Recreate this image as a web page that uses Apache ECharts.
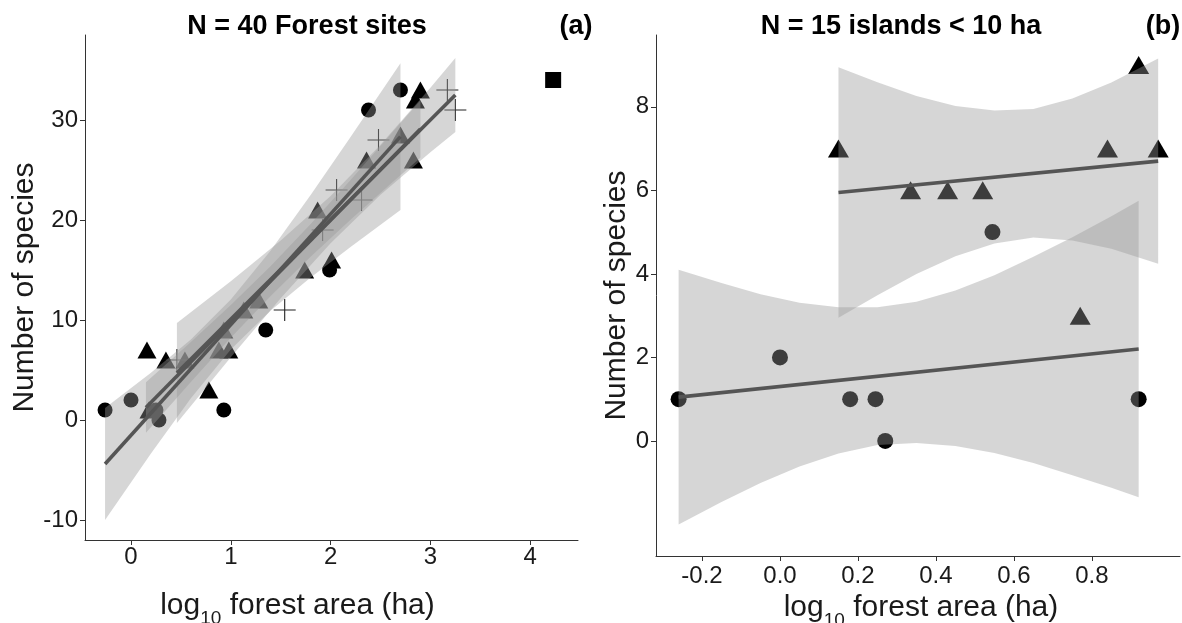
<!DOCTYPE html>
<html>
<head>
<meta charset="utf-8">
<script src="https://cdn.jsdelivr.net/npm/echarts@6/dist/echarts.min.js"></script>
<style>
html,body{margin:0;padding:0;background:#fff;}
#chart{width:1182px;height:623px;}
</style>
</head>
<body>
<div id="chart"></div>
<script>
// ---------- Panel (a): N = 40 forest sites ----------
const circlesA = [[-0.26,1],[0.0,2],[0.25,1],[0.28,0],[0.93,1],[1.35,9],[1.99,15],[2.38,31],[2.7,33]];
const trianglesA = [[0.16,7],[0.35,6],[0.18,1],[0.54,6],[0.78,3],[0.88,7],[0.98,7],[0.93,9],[1.13,11],[1.28,12],
                    [1.74,15],[1.87,21],[2.01,16],[2.36,26],[2.7,28.5],[2.83,26],[2.85,32],[2.9,33]];
const crossesA = [[0.46,6],[1.54,11],[1.92,19],[2.06,23],[2.31,22],[2.48,28],[3.17,33],[3.25,31]];
const squaresA = [[4.23,34]];

const fitCirclesA = [[-0.26,-4.4],[2.7,28.34]];
const fitTrianglesA = [[0.15,1.25],[2.9,29.1]];
const fitCrossesA = [[0.46,4.7],[3.25,32.5]];

const bandCirclesA_x  = [-0.26, 0.2, 0.6, 1.0, 1.4, 1.8, 2.2, 2.7];
const bandCirclesA_lo = [-10.0, -3.34, 2.17, 7.04, 10.96, 14.26, 17.31, 21.0];
const bandCirclesA_hi = [1.2, 4.72, 8.05, 12.04, 16.96, 22.5, 28.29, 35.68];

const bandTrianglesA_x  = [0.15, 0.6, 1.0, 1.4, 1.8, 2.2, 2.6, 2.9];
const bandTrianglesA_lo = [-1.28, 3.81, 8.22, 12.41, 16.32, 20.02, 23.6, 26.23];
const bandTrianglesA_hi = [3.78, 7.79, 11.5, 15.41, 19.6, 24.0, 28.54, 31.97];

const bandCrossesA_x  = [0.46, 1.0, 1.5, 2.0, 2.5, 3.0, 3.25];
const bandCrossesA_lo = [-0.3, 6.28, 12.18, 17.68, 22.52, 26.78, 28.79];
const bandCrossesA_hi = [9.7, 13.88, 17.94, 22.4, 27.52, 33.22, 36.19];

const xTicksA = [0, 1, 2, 3, 4];
const yTicksA = [-10, 0, 10, 20, 30];

// ---------- Panel (b): N = 15 islands < 10 ha ----------
const circlesB = [[-0.26,1],[0.0,2],[0.18,1],[0.245,1],[0.27,0],[0.545,5],[0.92,1]];
const trianglesB = [[0.15,7],[0.335,6],[0.43,6],[0.52,6],[0.77,3],[0.84,7],[0.92,9],[0.97,7]];

const fitCirclesB = [[-0.26,1.05],[0.92,2.2]];
const fitTrianglesB = [[0.15,5.95],[0.97,6.7]];

const bandCirclesB_x  = [-0.26,-0.15,-0.05,0.05,0.15,0.25,0.35,0.45,0.55,0.65,0.75,0.85,0.92];
const bandCirclesB_lo = [-2.0,-1.46,-1.01,-0.61,-0.30,-0.10,-0.05,-0.12,-0.29,-0.53,-0.82,-1.12,-1.35];
const bandCirclesB_hi = [4.1,3.78,3.51,3.31,3.20,3.20,3.33,3.60,3.97,4.41,4.88,5.38,5.75];

const bandTrianglesB_x  = [0.15,0.25,0.35,0.45,0.55,0.65,0.75,0.85,0.97];
const bandTrianglesB_lo = [2.95,3.49,4.00,4.42,4.73,4.87,4.80,4.60,4.24];
const bandTrianglesB_hi = [8.95,8.59,8.26,8.02,7.91,7.95,8.20,8.58,9.16];

const xTicksB = [-0.2, 0.0, 0.2, 0.4, 0.6, 0.8];
const yTicksB = [0, 2, 4, 6, 8];

// ---------- styling ----------
const FONT = 'Liberation Sans, Arial, sans-serif';
const AXIS_COLOR = '#333';
const TEXT_COLOR = '#1a1a1a';
const BAND_FILL = 'rgba(153,153,153,0.4)';
const LINE_COLOR = '#555';
const PLUS = 'path://M0,9.5H20V10.5H0Z M9.5,0H10.5V20H9.5Z';

function band(idx, xs, lo, hi) {
  const data = xs.map((x, i) => [x, lo[i], hi[i]]);
  return {
    type: 'custom', xAxisIndex: idx, yAxisIndex: idx, data: data, silent: true, z: 3,
    encode: { x: 0, y: [1, 2] },
    renderItem: function (params, api) {
      if (params.dataIndex !== 0) return null;
      const p = [];
      for (let i = 0; i < data.length; i++) p.push(api.coord([data[i][0], data[i][2]]));
      for (let i = data.length - 1; i >= 0; i--) p.push(api.coord([data[i][0], data[i][1]]));
      return { type: 'polygon', shape: { points: p }, style: { fill: BAND_FILL } };
    }
  };
}
function fit(idx, d) {
  return { type: 'line', xAxisIndex: idx, yAxisIndex: idx, data: d, symbol: 'none', z: 4, silent: true,
           lineStyle: { color: LINE_COLOR, width: 3.6 } };
}
function pts(idx, d, symbol, size, color) {
  return { type: 'scatter', xAxisIndex: idx, yAxisIndex: idx, data: d, symbol: symbol, symbolSize: size,
           z: 2, silent: true, itemStyle: { color: color, opacity: 1 } };
}
function xAxis(idx, min, max, ticks, fmt, margin, gap, padding) {
  return {
    gridIndex: idx, type: 'value', min: min, max: max,
    axisLine: { show: true, onZero: false, lineStyle: { color: AXIS_COLOR, width: 1 } },
    axisTick: { show: true, customValues: ticks, length: 5, lineStyle: { color: AXIS_COLOR } },
    axisLabel: { customValues: ticks, formatter: fmt, fontSize: 24, color: TEXT_COLOR, fontFamily: FONT, margin: margin },
    splitLine: { show: false },
    name: '{a|log}{s|10}{a| forest area (ha)}', nameLocation: 'middle', nameGap: gap,
    nameTextStyle: {
      padding: padding,
      rich: {
        a: { fontSize: 30, fontFamily: FONT, color: TEXT_COLOR, lineHeight: 44, verticalAlign: 'middle' },
        s: { fontSize: 19, fontFamily: FONT, color: TEXT_COLOR, lineHeight: 44, verticalAlign: 'bottom' }
      }
    }
  };
}
function yAxis(idx, min, max, ticks, gap) {
  return {
    gridIndex: idx, type: 'value', min: min, max: max,
    axisLine: { show: true, onZero: false, lineStyle: { color: AXIS_COLOR, width: 1 } },
    axisTick: { show: true, customValues: ticks, length: 5, lineStyle: { color: AXIS_COLOR } },
    axisLabel: { customValues: ticks, fontSize: 24, color: TEXT_COLOR, fontFamily: FONT, margin: 7 },
    splitLine: { show: false },
    name: 'Number of species', nameLocation: 'middle', nameGap: gap,
    nameTextStyle: { fontSize: 30, fontFamily: FONT, color: TEXT_COLOR }
  };
}
const titleStyle = { fontSize: 27, fontWeight: 'bold', fontFamily: FONT, color: '#000' };

const chart = echarts.init(document.getElementById('chart'), null, { renderer: 'canvas' });
chart.setOption({
  backgroundColor: '#fff',
  animation: false,
  title: [
    { text: 'N = 40 Forest sites', left: 302, top: 8, textAlign: 'center', textStyle: titleStyle },
    { text: '(a)', left: 571, top: 8, textAlign: 'center', textStyle: titleStyle },
    { text: 'N = 15 islands < 10 ha', left: 896, top: 8, textAlign: 'center', textStyle: titleStyle },
    { text: '(b)', left: 1158, top: 8, textAlign: 'center', textStyle: titleStyle }
  ],
  grid: [
    { left: 85, top: 35, width: 493, height: 505, outerBoundsMode: 'none', containLabel: false },
    { left: 656, top: 35, width: 524, height: 521, outerBoundsMode: 'none', containLabel: false }
  ],
  xAxis: [
    xAxis(0, -0.461, 4.479, xTicksA, v => String(v), 5, 44, [0, 68, 0, 0]),
    xAxis(1, -0.318, 1.026, xTicksB, v => v.toFixed(1), 8, 26, [0, 0, 0, 6])
  ],
  yAxis: [
    yAxis(0, -12.0, 38.5, yTicksA, 36),
    yAxis(1, -2.755, 9.72, yTicksB, 16)
  ],
  series: [
    pts(0, circlesA, 'circle', 15, '#000'),
    pts(0, trianglesA, 'triangle', [19, 17], '#000'),
    pts(0, crossesA, PLUS, 22, '#222'),
    pts(0, squaresA, 'rect', 16, '#000'),
    band(0, bandCirclesA_x, bandCirclesA_lo, bandCirclesA_hi),
    band(0, bandTrianglesA_x, bandTrianglesA_lo, bandTrianglesA_hi),
    band(0, bandCrossesA_x, bandCrossesA_lo, bandCrossesA_hi),
    fit(0, fitCirclesA), fit(0, fitTrianglesA), fit(0, fitCrossesA),

    pts(1, circlesB, 'circle', 16, '#000'),
    pts(1, trianglesB, 'triangle', [21, 18], '#000'),
    band(1, bandCirclesB_x, bandCirclesB_lo, bandCirclesB_hi),
    band(1, bandTrianglesB_x, bandTrianglesB_lo, bandTrianglesB_hi),
    fit(1, fitCirclesB), fit(1, fitTrianglesB)
  ]
});
</script>
</body>
</html>
